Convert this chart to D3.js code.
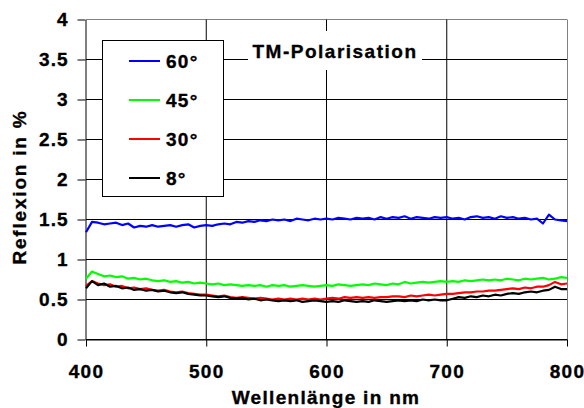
<!DOCTYPE html>
<html lang="de">
<head>
<meta charset="UTF-8">
<title>TM-Polarisation</title>
<script src="https://d3js.org/d3.v7.min.js"></script>
<style>
    body { margin: 0; background: #fff; }
    text {
        font-family: "Liberation Sans", Arial, sans-serif;
        font-weight: bold;
        font-size: 19px;
        fill: #000;
        stroke: #000;
        stroke-width: 0.35px;
    }
</style>
</head>
<body>
<div id="chart"></div>
<script>
    // Wellenlängen alle 5 nm
    const wavelengths = d3.range(400, 801, 5);

    const refl60 = [1.34,1.47,1.46,1.44,1.45,1.46,1.43,1.45,1.40,1.42,1.41,1.43,1.41,1.42,1.43,1.41,1.43,1.44,1.40,1.42,
        1.43,1.42,1.44,1.45,1.44,1.47,1.46,1.48,1.47,1.49,1.48,1.50,1.49,1.50,1.48,1.51,1.50,1.49,1.51,1.50,
        1.51,1.50,1.52,1.51,1.50,1.52,1.51,1.52,1.50,1.53,1.51,1.53,1.52,1.54,1.51,1.53,1.52,1.51,1.53,1.52,
        1.53,1.51,1.52,1.50,1.53,1.54,1.52,1.53,1.51,1.54,1.52,1.53,1.51,1.52,1.50,1.51,1.45,1.56,1.50,1.49,1.48];

    const refl45 = [0.76,0.85,0.82,0.79,0.80,0.78,0.79,0.76,0.77,0.75,0.76,0.74,0.73,0.74,0.72,0.73,0.71,0.72,0.70,0.71,
        0.70,0.69,0.70,0.68,0.69,0.68,0.67,0.68,0.67,0.68,0.66,0.68,0.67,0.68,0.66,0.67,0.68,0.67,0.66,0.67,
        0.68,0.67,0.69,0.68,0.67,0.68,0.69,0.68,0.70,0.69,0.68,0.70,0.69,0.72,0.70,0.71,0.72,0.71,0.72,0.73,
        0.72,0.73,0.72,0.74,0.73,0.74,0.75,0.74,0.75,0.74,0.76,0.75,0.74,0.76,0.75,0.76,0.77,0.75,0.76,0.78,0.77];

    const refl30 = [0.67,0.73,0.70,0.68,0.69,0.66,0.67,0.64,0.65,0.63,0.64,0.62,0.61,0.62,0.60,0.59,0.60,0.58,0.57,0.56,
        0.56,0.55,0.54,0.55,0.53,0.52,0.53,0.52,0.51,0.52,0.51,0.50,0.51,0.50,0.51,0.50,0.51,0.50,0.51,0.50,
        0.51,0.52,0.51,0.53,0.52,0.53,0.52,0.53,0.52,0.53,0.53,0.54,0.54,0.53,0.55,0.54,0.55,0.56,0.55,0.56,
        0.57,0.57,0.58,0.59,0.59,0.60,0.60,0.61,0.61,0.62,0.63,0.64,0.63,0.65,0.64,0.66,0.66,0.68,0.72,0.69,0.70];

    const refl8 = [0.64,0.73,0.68,0.70,0.66,0.67,0.64,0.65,0.62,0.63,0.61,0.62,0.60,0.61,0.59,0.58,0.59,0.57,0.56,0.55,
        0.55,0.54,0.53,0.54,0.52,0.51,0.52,0.50,0.51,0.49,0.50,0.49,0.48,0.49,0.48,0.49,0.47,0.48,0.49,0.48,
        0.47,0.48,0.47,0.49,0.48,0.47,0.48,0.47,0.49,0.48,0.47,0.48,0.49,0.48,0.49,0.48,0.50,0.49,0.50,0.49,
        0.49,0.51,0.53,0.52,0.54,0.53,0.55,0.54,0.56,0.55,0.57,0.58,0.57,0.59,0.60,0.59,0.61,0.62,0.66,0.63,0.63];

    const seriesNames = ["60°", "45°", "30°", "8°"];
    const seriesValues = [refl60, refl45, refl30, refl8];
    const seriesColors = ["#0000ff", "#00ff00", "#ff0000", "#000000"];

    const xTicks = [400, 500, 600, 700, 800];
    const yTicks = [0, 0.5, 1, 1.5, 2, 2.5, 3, 3.5, 4];

    const width = 584, height = 408;
    const plotLeft = 86, plotRight = 567, plotTop = 19.5, plotBottom = 339.5;

    const svg = d3.select("#chart").append("svg")
        .attr("width", width)
        .attr("height", height);

    const x = d3.scaleLinear().domain([400, 800]).range([plotLeft, plotRight]);
    const y = d3.scaleLinear().domain([0, 4]).range([plotBottom, plotTop]);

    // Gitterlinien
    svg.append("g").selectAll("line")
        .data(yTicks)
        .enter().append("line")
        .attr("x1", plotLeft).attr("x2", plotRight)
        .attr("y1", d => y(d)).attr("y2", d => y(d))
        .attr("stroke", d => d === 4 ? "#808080" : "#000")
        .attr("stroke-width", 1);

    svg.append("g").selectAll("line")
        .data(xTicks.slice(1, -1))
        .enter().append("line")
        .attr("x1", d => x(d)).attr("x2", d => x(d))
        .attr("y1", plotTop).attr("y2", plotBottom)
        .attr("stroke", "#000")
        .attr("stroke-width", 1);

    // rechter Rand
    svg.append("line")
        .attr("x1", plotRight + 0.5).attr("x2", plotRight + 0.5)
        .attr("y1", plotTop).attr("y2", plotBottom)
        .attr("stroke", "#808080");

    // Achsen
    const yAxis = svg.append("g")
        .attr("transform", `translate(${plotLeft - 0.5},0)`)
        .call(d3.axisLeft(y).tickValues(yTicks).tickSize(8).tickPadding(9).tickSizeOuter(0).tickFormat(d3.format("")));
    yAxis.selectAll("text").attr("letter-spacing", "1px");

    const xAxis = svg.append("g")
        .attr("transform", `translate(0,${plotBottom})`)
        .call(d3.axisBottom(x).tickValues(xTicks).tickSize(7).tickPadding(18).tickSizeOuter(0));
    xAxis.selectAll("text").attr("letter-spacing", "1.3px");

    svg.selectAll(".domain").attr("stroke", "#000");
    svg.selectAll(".tick line").attr("stroke", "#000");
    svg.selectAll(".tick text")
        .style("font-family", '"Liberation Sans", Arial, sans-serif')
        .style("font-size", "19px")
        .style("font-weight", "bold")
        .attr("fill", "#000");

    // Datenlinien
    const line = d3.line()
        .x((d, i) => x(wavelengths[i]))
        .y(d => y(d));

    svg.append("g").selectAll("path")
        .data(seriesValues)
        .enter().append("path")
        .attr("d", d => line(d))
        .attr("fill", "none")
        .attr("stroke", (d, i) => seriesColors[i])
        .attr("stroke-width", 2.2)
        .attr("stroke-linejoin", "round");

    // Legende
    const legend = svg.append("g");
    legend.append("rect")
        .attr("x", 102.5).attr("y", 40.5)
        .attr("width", 121).attr("height", 156)
        .attr("fill", "#fff")
        .attr("stroke", "#000");

    const legendY = d3.scalePoint().domain(seriesNames).range([61, 178]);

    legend.selectAll("line")
        .data(seriesNames)
        .enter().append("line")
        .attr("x1", 129).attr("x2", 160)
        .attr("y1", d => legendY(d)).attr("y2", d => legendY(d))
        .attr("stroke", (d, i) => seriesColors[i])
        .attr("stroke-width", 2);

    legend.selectAll("text")
        .data(seriesNames)
        .enter().append("text")
        .attr("x", 166)
        .attr("y", d => legendY(d) + 7)
        .attr("letter-spacing", "1.3px")
        .text(d => d);

    // Titel
    svg.append("rect")
        .attr("x", 248).attr("y", 31)
        .attr("width", 174).attr("height", 39)
        .attr("fill", "#fff");
    svg.append("text")
        .attr("x", 252.5).attr("y", 58)
        .attr("letter-spacing", "1.5px")
        .text("TM-Polarisation");

    // Achsentitel
    svg.append("text")
        .attr("x", 326).attr("y", 404)
        .attr("text-anchor", "middle")
        .attr("letter-spacing", "1.3px")
        .text("Wellenlänge in nm");

    svg.append("text")
        .attr("transform", "translate(26,187) rotate(-90)")
        .attr("text-anchor", "middle")
        .attr("letter-spacing", "1.8px")
        .text("Reflexion in %");
</script>
</body>
</html>
